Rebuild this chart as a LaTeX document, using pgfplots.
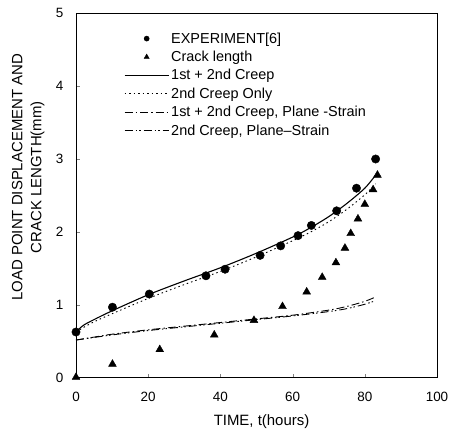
\documentclass[border=0pt]{standalone}
\usepackage{fontspec}
\setmainfont{Liberation Sans}
\usepackage{pgfplots}
\pgfplotsset{compat=1.18}
\pgfplotsset{
    circlegend/.style={legend image code/.code={\draw[##1, mark size=2.6bp] plot coordinates {(22bp,0bp)};}},
    trilegend/.style={legend image code/.code={\draw[##1, mark size=3bp] plot coordinates {(22bp,0bp)};}},
}

\pgfplotstableread{
x y
0 0.63
10.1 0.97
20.3 1.15
36.0 1.40
41.3 1.49
51.0 1.68
56.7 1.81
61.5 1.95
65.2 2.09
72.2 2.29
77.7 2.60
83.0 3.00
}\expdata

\pgfplotstableread{
x y
0 0.01
10.1 0.19
23.2 0.39
38.3 0.59
49.3 0.79
57.2 0.98
63.9 1.18
68.2 1.38
72.0 1.58
74.5 1.78
76.1 1.98
78.1 2.18
80.0 2.38
82.3 2.58
83.5 2.78
}\crackdata

\begin{document}
\begin{tikzpicture}
\begin{axis}[
    scale only axis,
    width=361bp, height=365bp,
    xmin=0, xmax=100, ymin=0, ymax=5,
    xtick={0,20,...,100}, ytick={0,1,...,5},
    tick align=inside, xtick pos=left, ytick pos=left,
    major tick length=4bp,
    axis line style={line width=1pt},
    /pgf/number format/assume math mode=true,
    tick label style={font=\fontsize{13.5}{16}\selectfont},
    xticklabel style={yshift=-11bp},
    yticklabel style={xshift=-9bp},
    xlabel={TIME, t(hours)},
    ylabel={LOAD POINT DISPLACEMENT AND\\CRACK LENGTH(mm)},
    every axis y label/.style={at={([xshift=-28bp]rel axis cs:0,0.55)},
        rotate=90, anchor=south, align=center,
        font=\fontsize{15}{19}\selectfont},
    every axis x label/.style={at={([xshift=5bp,yshift=-33bp]rel axis cs:0.5,0)},
        anchor=north, font=\fontsize{15}{17}\selectfont},
    legend cell align=left,
    legend style={at={(rel axis cs:0.13,0.955)}, anchor=north west,
        draw=none, fill=none, row sep=2.5bp, inner sep=1bp,
        font=\fontsize{14.5}{15}\selectfont},
    legend image code/.code={\draw[#1] (0bp,0bp) -- (44bp,0bp);},
]
\addplot[only marks, mark=*, mark size=4.2bp, black, circlegend]
    table[x=x,y=y]{\expdata};
\addlegendentry{EXPERIMENT[6]}
\addplot[only marks, mark=triangle*, mark size=4.5bp, black, trilegend]
    table[x=x,y=y]{\crackdata};
\addlegendentry{Crack length}
\addplot[black, line width=1.1pt, smooth] coordinates {
    (0,0.63) (2,0.72) (5,0.80) (10,0.92) (20,1.14) (30,1.33) (40,1.51)
    (50,1.71) (60,1.93) (65,2.06) (70,2.21) (75,2.39) (80,2.60) (83,2.78)
};
\addlegendentry{1st + 2nd Creep}
\addplot[black, line width=0.9pt, dash pattern=on 1.5pt off 3pt, smooth] coordinates {
    (0,0.63) (2,0.69) (5,0.77) (10,0.88) (20,1.09) (30,1.28) (40,1.46)
    (50,1.66) (60,1.88) (65,2.00) (70,2.14) (75,2.31) (80,2.51) (83,2.66)
};
\addlegendentry{2nd Creep Only}
\addplot[black, line width=0.9pt, dash pattern=on 8pt off 3pt on 1.5pt off 3pt, smooth] coordinates {
    (0,0.52) (5,0.56) (10,0.60) (20,0.66) (30,0.71) (40,0.76) (50,0.81)
    (60,0.86) (70,0.93) (75,0.98) (80,1.05) (83,1.11)
};
\addlegendentry{1st + 2nd Creep, Plane -Strain}
\addplot[black, line width=0.9pt, dash pattern=on 8pt off 3pt on 1.5pt off 2pt on 1.5pt off 3pt, smooth] coordinates {
    (0,0.52) (10,0.59) (20,0.65) (30,0.70) (40,0.75) (50,0.80)
    (60,0.85) (70,0.91) (75,0.95) (80,1.01) (83,1.06)
};
\addlegendentry{2nd Creep, Plane--Strain}
\end{axis}
% page margins as in the reference
\path ([xshift=-76bp,yshift=-52bp]current axis.south west)
    rectangle ([xshift=26bp,yshift=13bp]current axis.north east);
\end{tikzpicture}
\end{document}
